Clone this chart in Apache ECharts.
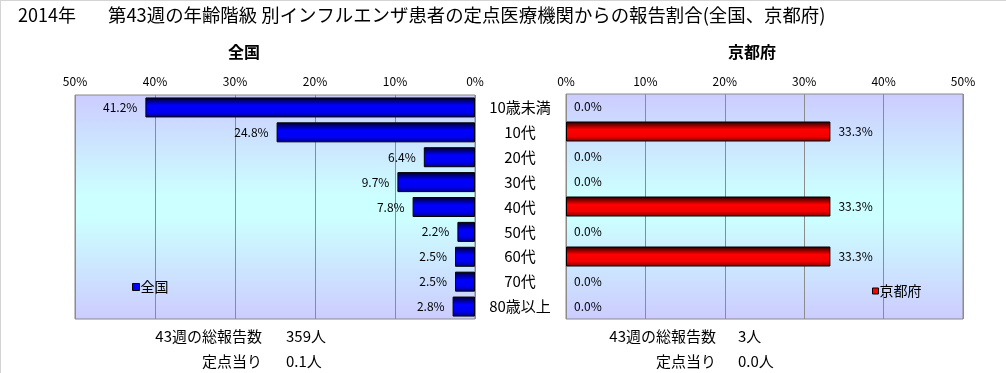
<!DOCTYPE html>
<html>
<head>
<meta charset="utf-8">
<script src="https://cdn.jsdelivr.net/npm/echarts@6/dist/echarts.min.js"></script>
<style>
html,body{margin:0;padding:0;background:#fff;}
#chart{width:1006px;height:373px;}
</style>
</head>
<body>
<div id="chart"></div>
<script>
// ---- data ----
var categories = ['10歳未満', '10代', '20代', '30代', '40代', '50代', '60代', '70代', '80歳以上'];
var nationalValues = [41.2, 24.8, 6.4, 9.7, 7.8, 2.2, 2.5, 2.5, 2.8];
var kyotoValues = [0.0, 33.3, 0.0, 0.0, 33.3, 0.0, 33.3, 0.0, 0.0];
var axisMin = 0, axisMax = 50, axisInterval = 10;
var titleYear = '2014年';
var titleMain = '第43週の年齢階級 別インフルエンザ患者の定点医療機関からの報告割合(全国、京都府)';
var panelTitles = ['全国', '京都府'];
var summaryLabels = ['43週の総報告数', '定点当り'];
var nationalSummary = ['359人', '0.1人'];
var kyotoSummary = ['3人', '0.0人'];

var FONT = '"Noto Sans CJK JP", "Noto Sans", sans-serif';
var chart = echarts.init(document.getElementById('chart'), null, {renderer: 'canvas'});

var plotBg = {
  type: 'linear', x: 0, y: 0, x2: 0, y2: 1,
  colorStops: [
    {offset: 0, color: '#ccccff'},
    {offset: 0.45, color: '#ccffff'},
    {offset: 0.55, color: '#ccffff'},
    {offset: 1, color: '#ccccff'}
  ]
};
var blueGrad = {
  type: 'linear', x: 0, y: 0, x2: 0, y2: 1,
  colorStops: [
    {offset: 0, color: '#000020'},
    {offset: 0.4, color: '#0000ff'},
    {offset: 0.75, color: '#0000f0'},
    {offset: 1, color: '#000080'}
  ]
};
var redGrad = {
  type: 'linear', x: 0, y: 0, x2: 0, y2: 1,
  colorStops: [
    {offset: 0, color: '#200000'},
    {offset: 0.4, color: '#ff0000'},
    {offset: 0.75, color: '#f00000'},
    {offset: 1, color: '#800000'}
  ]
};

function pct(p) { return p.value.toFixed(1) + '%'; }
// zero-length bars carry no visible outline
function barItems(values) {
  return values.map(function (v) {
    return v === 0 ? {value: v, itemStyle: {borderWidth: 0}} : {value: v};
  });
}

var textStyleBase = {fontFamily: FONT, fill: '#000'};
function txt(x, y, text, size, align, weight) {
  return {
    type: 'text', x: x, y: y, silent: true,
    style: Object.assign({}, textStyleBase, {
      text: text, fontSize: size, align: align || 'left',
      verticalAlign: 'middle', fontWeight: weight || 'normal'
    })
  };
}

var graphics = [
  {type: 'line', silent: true, shape: {x1: 0, y1: 0.5, x2: 1006, y2: 0.5}, style: {stroke: '#d4d4d4', lineWidth: 1}},
  {type: 'line', silent: true, shape: {x1: 0.5, y1: 0, x2: 0.5, y2: 373}, style: {stroke: '#d4d4d4', lineWidth: 1}},
  txt(18, 15, titleYear, 18),
  txt(108, 15, titleMain, 18.4),
  txt(244, 52, panelTitles[0], 16, 'center', 'bold'),
  txt(752, 52, panelTitles[1], 16, 'center', 'bold'),
  txt(262, 336, summaryLabels[0], 15, 'right'),
  txt(286, 336, nationalSummary[0], 15, 'left'),
  txt(262, 361, summaryLabels[1], 15, 'right'),
  txt(286, 361, nationalSummary[1], 15, 'left'),
  txt(716, 336, summaryLabels[0], 15, 'right'),
  txt(738, 336, kyotoSummary[0], 15, 'left'),
  txt(716, 361, summaryLabels[1], 15, 'right'),
  txt(738, 361, kyotoSummary[1], 15, 'left')
];

var option = {
  animation: false,
  backgroundColor: '#ffffff',
  textStyle: {fontFamily: FONT, color: '#000'},
  graphic: graphics,
  legend: [
    {
      left: 132, top: 280, padding: 0, itemWidth: 7, itemHeight: 7, icon: 'rect',
      itemGap: 0,
      textStyle: {fontFamily: FONT, fontSize: 14, color: '#000', padding: [0, 0, 0, -4]},
      data: [{name: panelTitles[0], itemStyle: {color: '#0000ff', borderColor: '#000', borderWidth: 1}}]
    },
    {
      left: 872, top: 284, padding: 0, itemWidth: 6, itemHeight: 6, icon: 'rect',
      itemGap: 0,
      textStyle: {fontFamily: FONT, fontSize: 14, color: '#000', padding: [0, 0, 0, -4]},
      data: [{name: panelTitles[1], itemStyle: {color: '#ff0000', borderColor: '#000', borderWidth: 1}}]
    }
  ],
  grid: [
    {left: 75, top: 95, width: 400, height: 224, show: true, backgroundColor: plotBg, borderColor: '#888888', borderWidth: 1, containLabel: false},
    {left: 566, top: 94, width: 397, height: 225, show: true, backgroundColor: plotBg, borderColor: '#888888', borderWidth: 1, containLabel: false}
  ],
  xAxis: [
    {
      gridIndex: 0, type: 'value', inverse: true, position: 'top',
      min: axisMin, max: axisMax, interval: axisInterval,
      axisLine: {show: false}, axisTick: {show: false},
      axisLabel: {formatter: '{value}%', fontSize: 12, color: '#000', margin: 8, fontFamily: FONT},
      splitLine: {show: true, lineStyle: {color: '#8c8c8c', width: 1}}
    },
    {
      gridIndex: 1, type: 'value', position: 'top',
      min: axisMin, max: axisMax, interval: axisInterval,
      axisLine: {show: false}, axisTick: {show: false},
      axisLabel: {formatter: '{value}%', fontSize: 12, color: '#000', margin: 7, fontFamily: FONT},
      splitLine: {show: true, lineStyle: {color: '#8c8c8c', width: 1}}
    }
  ],
  yAxis: [
    {
      gridIndex: 0, type: 'category', data: categories, inverse: true, position: 'right',
      axisLine: {show: false}, axisTick: {show: false},
      axisLabel: {align: 'center', margin: 45, fontSize: 15, color: '#000', fontFamily: FONT}
    },
    {
      gridIndex: 1, type: 'category', data: categories, inverse: true,
      axisLine: {show: false}, axisTick: {show: false}, axisLabel: {show: false}
    }
  ],
  series: [
    {
      name: panelTitles[0], type: 'bar', xAxisIndex: 0, yAxisIndex: 0,
      data: barItems(nationalValues), barWidth: 20,
      itemStyle: {color: blueGrad, borderColor: '#000', borderWidth: 1},
      label: {show: true, position: 'left', distance: 8, formatter: pct, fontSize: 12, color: '#000', fontFamily: FONT}
    },
    {
      name: panelTitles[1], type: 'bar', xAxisIndex: 1, yAxisIndex: 1,
      data: barItems(kyotoValues), barWidth: 20,
      itemStyle: {color: redGrad, borderColor: '#000', borderWidth: 1},
      label: {show: true, position: 'right', distance: 8, formatter: pct, fontSize: 12, color: '#000', fontFamily: FONT}
    }
  ]
};
chart.setOption(option);
</script>
</body>
</html>
